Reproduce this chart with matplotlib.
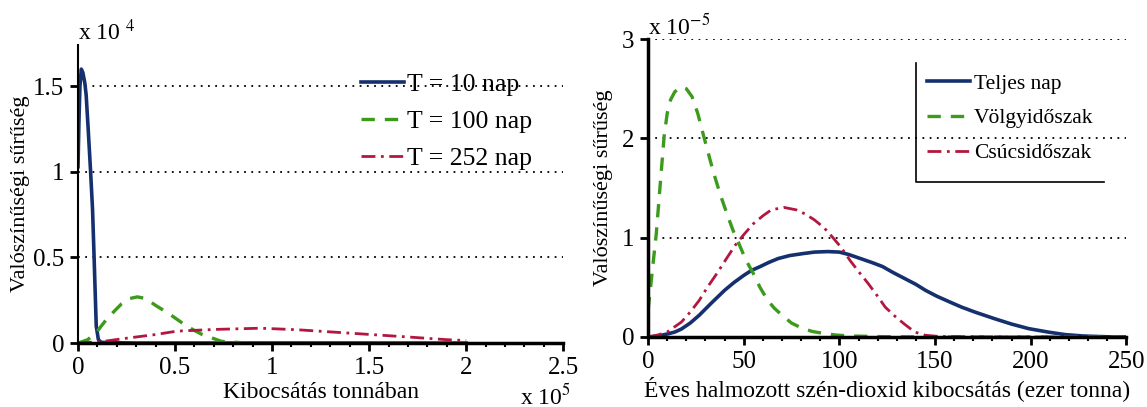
import matplotlib
matplotlib.use('Agg')
import matplotlib.pyplot as plt
from matplotlib.ticker import MultipleLocator, FormatStrFormatter

plt.rcParams['font.family'] = ['Liberation Serif', 'DejaVu Serif']
plt.rcParams['mathtext.fontset'] = 'stix'

# left panel: x in 1e5 tonnes, y in 1e-4
t10_x = [0, 0.005, 0.01, 0.017, 0.025, 0.035, 0.042, 0.052, 0.065, 0.075, 0.083, 0.094, 0.105, 0.12, 0.3, 1.0, 2.0]
t10_y = [1.03, 1.3, 1.5, 1.6, 1.58, 1.52, 1.45, 1.26, 1.0, 0.78, 0.5, 0.1, 0.02, 0.004, 0, 0, 0]
t100_x = [0, 0.05, 0.094, 0.12, 0.148, 0.19, 0.225, 0.265, 0.306, 0.35, 0.40, 0.45, 0.49, 0.54, 0.59, 0.64, 0.69, 0.74, 0.85, 1.2, 1.6, 2.0]
t100_y = [0, 0.02, 0.06, 0.1, 0.14, 0.19, 0.23, 0.26, 0.27, 0.26, 0.22, 0.185, 0.155, 0.115, 0.08, 0.05, 0.03, 0.01, 0.002, 0, 0, 0]
t252_x = [0, 0.13, 0.26, 0.40, 0.51, 0.71, 0.94, 1.13, 1.32, 1.51, 1.71, 1.90, 2.0]
t252_y = [0, 0.01, 0.03, 0.05, 0.07, 0.08, 0.087, 0.078, 0.064, 0.05, 0.035, 0.02, 0.015]

# right panel: x in thousand tonnes, y in 1e-5
full_x = [0, 5, 10, 14, 17.4, 22, 26.8, 33, 40, 45, 50, 54, 58.7, 63, 68, 74, 81, 87, 94, 100, 105, 111, 117, 122.5, 128, 134, 140, 145, 151, 158, 164, 171, 181, 190, 199, 209, 218, 227.5, 240, 250]
full_y = [0, 0.01, 0.03, 0.05, 0.08, 0.14, 0.22, 0.34, 0.47, 0.55, 0.62, 0.67, 0.71, 0.75, 0.79, 0.82, 0.84, 0.855, 0.86, 0.855, 0.83, 0.79, 0.75, 0.71, 0.65, 0.59, 0.53, 0.47, 0.41, 0.35, 0.3, 0.25, 0.185, 0.13, 0.084, 0.05, 0.024, 0.01, 0.002, 0]
valley_x = [0, 1.2, 2.4, 4.3, 6.2, 8.4, 10, 11.8, 14, 17.4, 20, 23, 26, 28.7, 31.5, 34.3, 38, 41.8, 44.5, 47.5, 51, 55, 58.5, 62.5, 66, 70, 75, 81, 86, 92.5, 98, 105.6, 124, 152, 200, 250]
valley_y = [0.27, 0.48, 0.7, 1.04, 1.5, 2.02, 2.25, 2.39, 2.47, 2.52, 2.5, 2.42, 2.25, 2.05, 1.85, 1.65, 1.42, 1.21, 1.07, 0.94, 0.78, 0.64, 0.5, 0.37, 0.29, 0.22, 0.14, 0.084, 0.055, 0.034, 0.02, 0.01, 0.003, 0, 0, 0]
peak_x = [0, 5, 10, 17.4, 22, 26.8, 31, 36, 41, 45.6, 50, 55, 60, 64.4, 71, 77.5, 82, 86.9, 92, 96.2, 101, 105.6, 110, 115, 120, 124, 129, 134, 139.4, 145, 152.5, 171, 200, 250]
peak_y = [0, 0.02, 0.05, 0.15, 0.25, 0.37, 0.5, 0.64, 0.79, 0.925, 1.03, 1.14, 1.22, 1.28, 1.305, 1.28, 1.24, 1.18, 1.1, 1.01, 0.9, 0.77, 0.66, 0.54, 0.41, 0.30, 0.21, 0.13, 0.05, 0.017, 0.005, 0.002, 0, 0]

left_labels = ['T = 10 nap', 'T = 100 nap', 'T = 252 nap']
right_labels = ['Teljes nap', 'Völgyidőszak', 'Csúcsidőszak']

blue = '#15306e'
green = '#3c9a1c'
red = '#b3173f'
fs = 17

fig = plt.figure(figsize=(11.47, 4.07), dpi=100)
ax1 = fig.add_axes([0.068, 0.157, 0.423, 0.732])
ax2 = fig.add_axes([0.565, 0.172, 0.417, 0.732])

ax1.plot(t10_x, t10_y, color=blue, lw=2.6, label=left_labels[0])
ax1.plot(t100_x, t100_y, color=green, lw=2.4, dashes=(4, 3), label=left_labels[1])
ax1.plot(t252_x, t252_y, color=red, lw=2.0, dashes=(5, 2, 1, 2), label=left_labels[2])

ax2.plot(full_x, full_y, color=blue, lw=2.6, label=right_labels[0])
ax2.plot(valley_x, valley_y, color=green, lw=2.4, dashes=(4, 3), label=right_labels[1])
ax2.plot(peak_x, peak_y, color=red, lw=2.0, dashes=(5, 2, 1, 2), label=right_labels[2])

for ax in (ax1, ax2):
    ax.spines['top'].set_visible(False)
    ax.spines['right'].set_visible(False)
    ax.spines['bottom'].set_linewidth(2.5)
    ax.spines['left'].set_linewidth(2.5)
    ax.tick_params(which='major', direction='out', length=6, width=2, labelsize=fs + 1, pad=4)
    ax.tick_params(which='minor', direction='out', length=3, width=1.5)
    ax.yaxis.grid(True, which='major', linestyle=(0, (1, 3)), color='black', lw=1.3)
    ax.yaxis.set_major_formatter(FormatStrFormatter('%g'))
    ax.xaxis.set_major_formatter(FormatStrFormatter('%g'))

ax1.set_ylabel('Valószínűségi sűrűség', fontsize=fs - 1, labelpad=2)
ax2.set_ylabel('Valószínűségi sűrűség', fontsize=fs - 1, labelpad=6)

ax1.spines['left'].set_linewidth(1.5)
ax1.set_xlim(0, 2.5)
ax1.set_ylim(0, 1.74)
ax1.xaxis.set_major_locator(MultipleLocator(0.5))
ax1.xaxis.set_minor_locator(MultipleLocator(0.1))
ax1.yaxis.set_major_locator(MultipleLocator(0.5))
ax1.set_xlabel('Kibocsátás tonnában', fontsize=fs, labelpad=2)
ax1.text(0.0, 1.0, r'x 10 $^4$', transform=ax1.transAxes, fontsize=fs, va='bottom')
ax1.text(0.912, -0.135, r'x 10$^5$', transform=ax1.transAxes, fontsize=fs, va='top')

ax2.set_xlim(0, 250)
ax2.set_ylim(0, 3)
ax2.xaxis.set_major_locator(MultipleLocator(50))
ax2.xaxis.set_minor_locator(MultipleLocator(10))
ax2.yaxis.set_major_locator(MultipleLocator(1))
ax2.set_xlabel('Éves halmozott szén-dioxid kibocsátás (ezer tonna)', fontsize=fs, labelpad=2)
ax2.text(0.0, 1.0, r'x 10$^{-5}$', transform=ax2.transAxes, fontsize=fs, va='bottom')

leg1 = ax1.legend(loc='upper left', bbox_to_anchor=(0.535, 0.985), frameon=False,
                  fontsize=18.5, handlelength=1.7, handletextpad=0.1, labelspacing=0.55)
leg2 = ax2.legend(loc='upper left', bbox_to_anchor=(0.56, 0.92), frameon=False,
                  fontsize=15.5, handlelength=2.0, handletextpad=0.2, labelspacing=0.68,
                  borderpad=0.5, borderaxespad=0.0)

# legend box on the right only has left and bottom edges
fig.canvas.draw()
bb = leg2.get_window_extent()
to_axes = ax2.transAxes.inverted()
(x0, y0), (x1, y1) = to_axes.transform([(bb.x0, bb.y0 - 8), (bb.x1, bb.y1)])
ax2.plot([x0, x0, x1], [y1, y0, y0], transform=ax2.transAxes,
         color='black', lw=1.2, clip_on=False)

fig.savefig('out.png', dpi=100)
